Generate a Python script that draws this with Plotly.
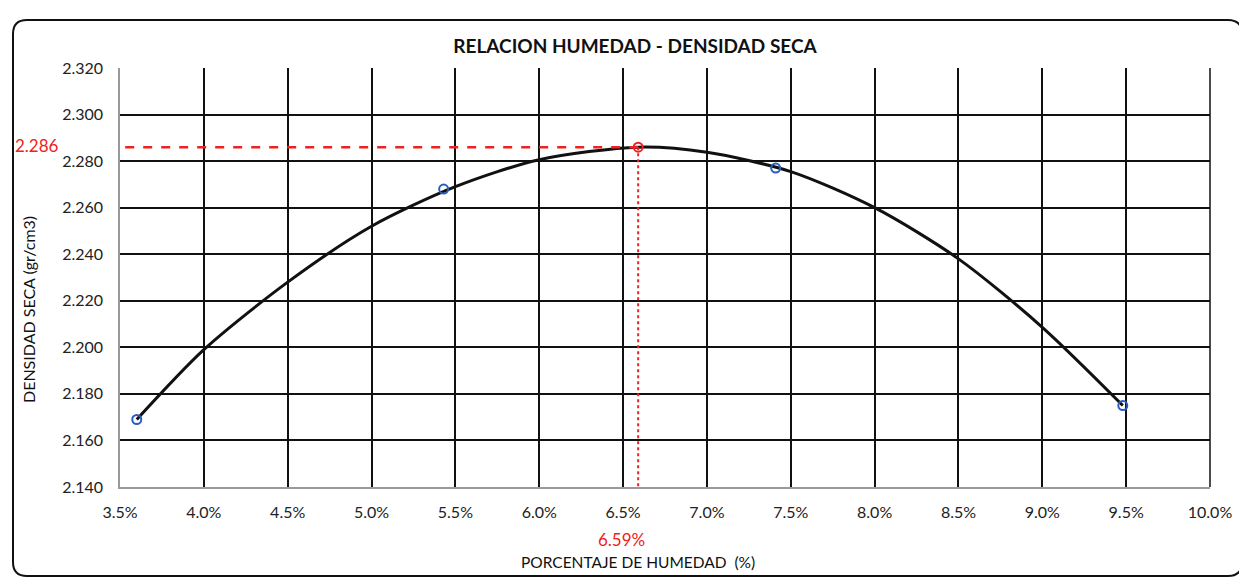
import plotly.graph_objects as go

# Measured points (moisture %, dry density g/cm3)
humedad = [3.60, 5.43, 7.41, 9.48]
densidad = [2.169, 2.268, 2.277, 2.175]

# Optimum (from chart annotations)
och = 6.59
mdd = 2.286

# Fitted curve
curva_x = [3.60, 4.0, 4.5, 5.0, 5.5, 6.0, 6.59, 7.0, 7.5, 8.0, 8.5, 9.0, 9.48]
curva_y = [2.169, 2.199, 2.228, 2.252, 2.269, 2.2806, 2.286, 2.2838, 2.2755, 2.260, 2.238, 2.2086, 2.175]

x_ticks = [3.5, 4.0, 4.5, 5.0, 5.5, 6.0, 6.5, 7.0, 7.5, 8.0, 8.5, 9.0, 9.5, 10.0]
x_labels = [f"{v:.1f}%" for v in x_ticks]
y_ticks = [2.140, 2.160, 2.180, 2.200, 2.220, 2.240, 2.260, 2.280, 2.300, 2.320]
y_labels = [f"{v:.3f}" for v in y_ticks]

OFF = 8  # page body margin
W, H = 1247 - OFF, 587 - OFF
# plot area in screen pixels
SL, SR, ST, SB = 120, 1210, 68, 487
L, Rpix, T, Bpix = SL - OFF, SR - OFF, ST - OFF, SB - OFF
pw, ph = Rpix - L, Bpix - T

def px(xs):
    return (xs - OFF - L) / pw

def py(ys):
    return (Bpix - (ys - OFF)) / ph

font = "Lato, Open Sans, sans-serif"

fig = go.Figure()
fig.add_trace(go.Scatter(x=curva_x, y=curva_y, mode="lines",
                         line=dict(color="#111", width=3, shape="spline", smoothing=0.8),
                         hoverinfo="skip", showlegend=False))
fig.add_trace(go.Scatter(x=[och, 3.5], y=[mdd, mdd], mode="lines",
                         line=dict(color="#ee2222", width=2.5, dash="dash"), showlegend=False))
fig.add_trace(go.Scatter(x=[och, och], y=[mdd, 2.140], mode="lines",
                         line=dict(color="#ee2222", width=2, dash="dot"), showlegend=False))
fig.add_trace(go.Scatter(x=humedad, y=densidad, mode="markers",
                         marker=dict(symbol="circle-open", size=9, color="#2a5cc0",
                                     line=dict(width=2)), showlegend=False))
fig.add_trace(go.Scatter(x=[och], y=[mdd], mode="markers",
                         marker=dict(symbol="circle-open", size=9, color="#ee2222",
                                     line=dict(width=2)), showlegend=False))

# rounded outer frame (screen pixel coords converted to paper)
fl, fr, ft, fb, rad = 13, 1242, 20, 576, 14
def P(x, y):
    return f"{px(x):.5f},{py(y):.5f}"
frame_path = (f"M {P(fl + rad, ft)} L {P(fr - rad, ft)} Q {P(fr, ft)} {P(fr, ft + rad)} "
              f"L {P(fr, fb - rad)} Q {P(fr, fb)} {P(fr - rad, fb)} "
              f"L {P(fl + rad, fb)} Q {P(fl, fb)} {P(fl, fb - rad)} "
              f"L {P(fl, ft + rad)} Q {P(fl, ft)} {P(fl + rad, ft)} Z")

fig.update_layout(
    width=W, height=H,
    margin=dict(l=L, r=W - Rpix, t=T, b=H - Bpix, autoexpand=False),
    paper_bgcolor="white", plot_bgcolor="white",
    font=dict(family=font, size=16, color="#222"),
    title=dict(text="<b>RELACION HUMEDAD - DENSIDAD SECA</b>", x=px(635), xref="paper",
               xanchor="center", y=1 - (46 - OFF) / H, yanchor="middle",
               font=dict(size=19, color="#111")),
    xaxis=dict(range=[3.5, 10.0], tickvals=x_ticks, ticktext=x_labels,
               showgrid=True, gridcolor="#111", gridwidth=1.5,
               showline=True, linecolor="#999", linewidth=1.5, mirror=False,
               zeroline=False, ticks="", ticklabelstandoff=10, automargin=False,
               title=dict(text="")),
    yaxis=dict(range=[2.140, 2.320], tickvals=y_ticks, ticktext=y_labels,
               showgrid=True, gridcolor="#111", gridwidth=1.5,
               showline=True, linecolor="#999", linewidth=1.5,
               zeroline=False, ticks="", ticklabelstandoff=12, automargin=False,
               title=dict(text="")),
    shapes=[
        dict(type="line", xref="paper", yref="paper", x0=1, x1=1, y0=0, y1=1,
             line=dict(color="#111", width=1.5)),
        dict(type="path", xref="paper", yref="paper", layer="below", path=frame_path,
             line=dict(color="#111", width=2)),
    ],
    annotations=[
        dict(text="PORCENTAJE DE HUMEDAD  (%)", x=px(638), y=py(562), xref="paper",
             yref="paper", xanchor="center", yanchor="middle", showarrow=False,
             font=dict(size=15.5, color="#111")),
        dict(text="DENSIDAD SECA (gr/cm3)", x=px(28), y=py(310), xref="paper",
             yref="paper", xanchor="center", yanchor="middle", showarrow=False,
             textangle=-90, font=dict(size=16, color="#111")),
        dict(text="2.286", x=px(37), y=mdd, xref="paper", yref="y", showarrow=False,
             xanchor="center", yanchor="middle", yshift=2,
             font=dict(color="#ee2222", size=17)),
        dict(text="6.59%", x=px(621), y=py(539), xref="paper", yref="paper", showarrow=False,
             xanchor="center", yanchor="middle", font=dict(color="#ee2222", size=17)),
    ],
)

fig.write_html("out.html")
